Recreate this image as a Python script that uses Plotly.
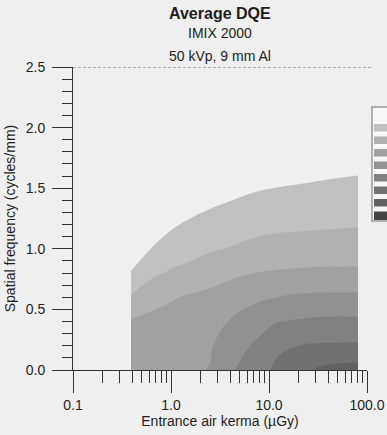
import plotly.graph_objects as go

# Entrance air kerma (uGy) at which the DQE was averaged
KERMA = [0.39, 0.65, 1.0, 1.5, 2.5, 4.0, 7.0, 12.0, 20.0, 35.0, 81.0]
# Spatial frequency (cycles/mm)
FREQ = [0.0, 0.2, 0.4, 0.6, 0.8, 1.0, 1.2, 1.4, 1.6, 1.8]
# Average DQE, one row per frequency, one column per kerma value
DQE = [
    [0.190, 0.190, 0.195, 0.192, 0.202, 0.245, 0.270, 0.310, 0.335, 0.360, 0.370],
    [0.175, 0.180, 0.185, 0.190, 0.195, 0.225, 0.255, 0.290, 0.300, 0.305, 0.306],
    [0.155, 0.165, 0.170, 0.175, 0.183, 0.202, 0.225, 0.248, 0.255, 0.260, 0.260],
    [0.105, 0.132, 0.145, 0.155, 0.162, 0.175, 0.190, 0.200, 0.207, 0.210, 0.210],
    [0.053, 0.092, 0.105, 0.112, 0.130, 0.140, 0.150, 0.155, 0.158, 0.160, 0.160],
    [0.010, 0.054, 0.075, 0.085, 0.095, 0.102, 0.112, 0.118, 0.120, 0.122, 0.123],
    [0.000, 0.010, 0.042, 0.058, 0.068, 0.075, 0.085, 0.090, 0.092, 0.094, 0.097],
    [0.000, 0.000, 0.000, 0.020, 0.040, 0.049, 0.062, 0.067, 0.070, 0.073, 0.078],
    [0.000, 0.000, 0.000, 0.000, 0.000, 0.000, 0.025, 0.035, 0.040, 0.045, 0.051],
    [0.000, 0.000, 0.000, 0.000, 0.000, 0.000, 0.000, 0.000, 0.000, 0.000, 0.000],
]
# Contour levels of the DQE
LEVEL_START, LEVEL_END, LEVEL_STEP = 0.05, 0.40, 0.05

X_TICKS = [0.1, 1, 10, 100]
X_TICK_TEXT = ["0.1", "1.0", "10.0", "100.0"]
X_MINOR = [m * d for d in (0.1, 1, 10) for m in range(2, 10)]

PAPER = "#efefef"
INK = "#1e1e1e"
AXIS = "#333333"
# band colours: below the first level, then one per level band
BAND_COLORS = ["#efefef", "#c0c0c0", "#b1b1b1", "#a1a1a1", "#919191",
               "#818181", "#717171", "#626262", "#434343"]

n = len(BAND_COLORS) - 1
colorscale = [[i / n, c] for i, c in enumerate(BAND_COLORS)]

FONT = "Liberation Sans, Arial, sans-serif"

fig = go.Figure()
fig.add_trace(go.Contour(
    x=KERMA, y=FREQ, z=DQE,
    contours=dict(start=LEVEL_START, end=LEVEL_END, size=LEVEL_STEP, coloring="fill"),
    colorscale=colorscale,
    line=dict(width=0, smoothing=1.3),
    showscale=False,
    hoverinfo="skip",
))

# dashed frame line along the top of the plot area
fig.add_shape(type="line", xref="paper", yref="y", x0=0, x1=1.02, y0=2.5, y1=2.5,
              line=dict(color="#6a6a6a", width=1, dash="3px,2px"))

# level key at the right edge of the page (pixel positions -> plot-area fractions)
W, H = 387, 435
L, R, T, B = 73, 20, 67, 65
PW, PH = W - L - R, H - T - B


def px(x):
    return (x - L) / PW


def py(y):
    return (H - B - y) / PH


key_left, key_top, key_bottom = 372, 107, 221
fig.add_shape(type="rect", xref="paper", yref="paper",
              x0=px(key_left), x1=px(key_left + 30), y0=py(key_bottom), y1=py(key_top),
              fillcolor="#f7f7f7", line=dict(color="#9a9a9a", width=1.5))
pitch = 12.5
for i, c in enumerate(BAND_COLORS[1:]):
    top = 124 + i * pitch
    h = 7.5 if i < n - 1 else 8.5
    fig.add_shape(type="rect", xref="paper", yref="paper",
                  x0=px(key_left + 2), x1=px(key_left + 30), y0=py(top + h), y1=py(top),
                  fillcolor=c, line=dict(width=0))

# title block
for text, ypix, size, bold in [("Average DQE", 13, 16, True),
                               ("IMIX 2000", 33, 14, False),
                               ("50 kVp, 9 mm Al", 56, 14, False)]:
    fig.add_annotation(text=f"<b>{text}</b>" if bold else text,
                       xref="paper", yref="paper", x=0.5, y=py(ypix),
                       xanchor="center", yanchor="middle", showarrow=False,
                       font=dict(size=size, color=INK, family=FONT))

fig.update_layout(
    width=W, height=H,
    margin=dict(l=L, r=R, t=T, b=B, autoexpand=False),
    paper_bgcolor=PAPER, plot_bgcolor=PAPER,
    font=dict(family=FONT, size=14, color=INK),
    showlegend=False,
)
fig.update_xaxes(
    type="log", range=[-1, 2],
    tickmode="array", tickvals=X_TICKS, ticktext=X_TICK_TEXT,
    ticks="outside", ticklen=22, tickwidth=1, tickcolor=AXIS,
    minor=dict(tickmode="array", tickvals=X_MINOR, ticks="outside",
               ticklen=12, tickwidth=1, tickcolor=AXIS),
    showline=True, linecolor=AXIS, linewidth=1,
    showgrid=False, zeroline=False,
    ticklabelstandoff=0,
    title=dict(text="Entrance air kerma (µGy)", standoff=1, font=dict(size=14)),
)
fig.update_yaxes(
    range=[0, 2.5], dtick=0.5, tickformat=".1f",
    ticks="outside", ticklen=20, tickwidth=1, tickcolor=AXIS,
    minor=dict(dtick=0.1, ticks="outside", ticklen=10, tickwidth=1, tickcolor=AXIS),
    showline=True, linecolor=AXIS, linewidth=1,
    showgrid=False, zeroline=False,
    ticklabelstandoff=4,
    title=dict(text="Spatial frequency (cycles/mm)", standoff=6, font=dict(size=14)),
)

fig.write_html("out.html")
